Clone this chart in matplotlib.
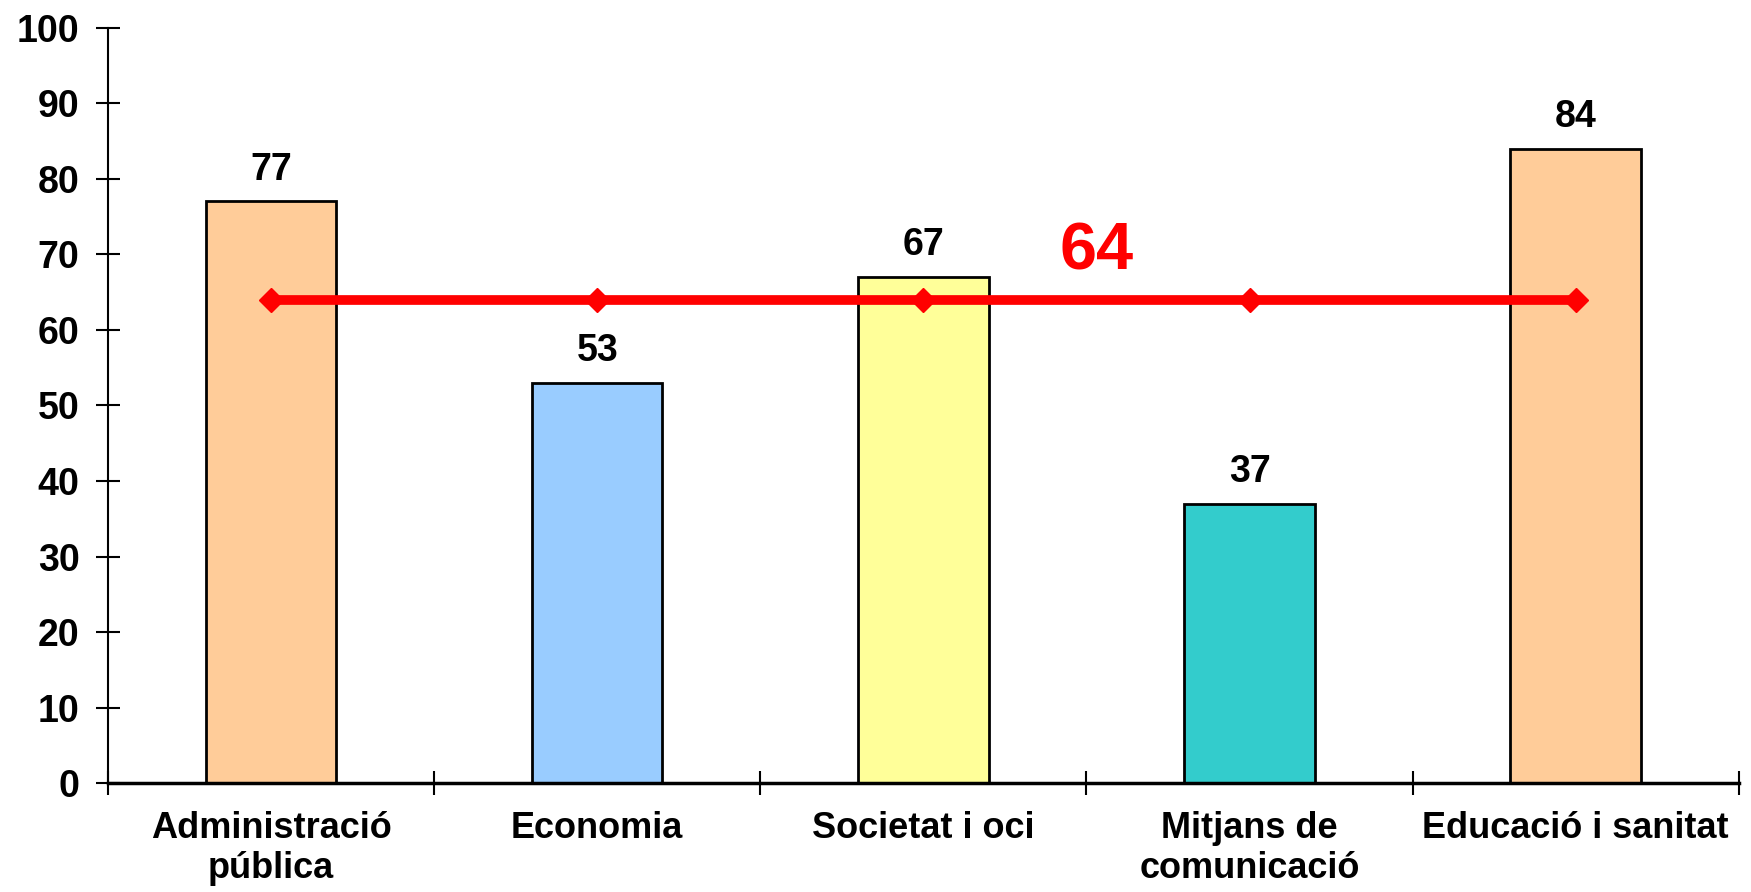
import numpy as np
import matplotlib.pyplot as plt

categories = ["Administració\npública", "Economia", "Societat i oci",
              "Mitjans de\ncomunicació", "Educació i sanitat"]
values = [77, 53, 67, 37, 84]
average = [64, 64, 64, 64, 64]
bar_colours = ["#FFCC99", "#99CCFF", "#FFFF99", "#33CCCC", "#FFCC99"]
y_ticks = [0, 10, 20, 30, 40, 50, 60, 70, 80, 90, 100]

plt.rcParams['font.family'] = ['Liberation Sans', 'DejaVu Sans']
plt.rcParams['font.weight'] = 'bold'

fig = plt.figure(figsize=(17.51, 8.92), dpi=100)
ax = fig.add_axes([0.0617, 0.122, 0.9313, 0.847])

x = np.arange(len(categories))
ax.bar(x, values, width=0.4, color=bar_colours, edgecolor='black', linewidth=2, zorder=2)

for xi, v in zip(x, values):
    ax.text(xi, v + 1.8, str(v), ha='center', va='bottom', fontsize=27, fontweight='bold')

# average line
ax.plot(x, average, color='#FF0000', linewidth=7, marker='D', markersize=12, zorder=3)
ax.text(2.53, average[0] + 6.3, str(average[0]), color='#FF0000', ha='center',
        va='center', fontsize=48, fontweight='bold')

ax.set_xlim(-0.5, len(categories) - 0.5)
ax.set_ylim(0, 100)
ax.set_yticks(y_ticks)
ax.set_yticklabels([str(t) for t in y_ticks], fontsize=27, fontweight='bold')

ax.set_xticks(np.arange(-0.5, len(categories)))
ax.set_xticklabels([])
ax.set_xticks(x, minor=True)
ax.set_xticklabels(categories, minor=True, fontsize=26, fontweight='bold', linespacing=1.2)
ax.tick_params(axis='x', which='minor', length=0, pad=20)
ax.tick_params(axis='both', which='major', direction='inout', length=17, width=1.5)
ax.tick_params(axis='y', pad=12)

for s in ['top', 'right']:
    ax.spines[s].set_visible(False)
ax.spines['left'].set_linewidth(1.5)
ax.spines['bottom'].set_linewidth(2.5)

fig.savefig('out.png', dpi=100)
